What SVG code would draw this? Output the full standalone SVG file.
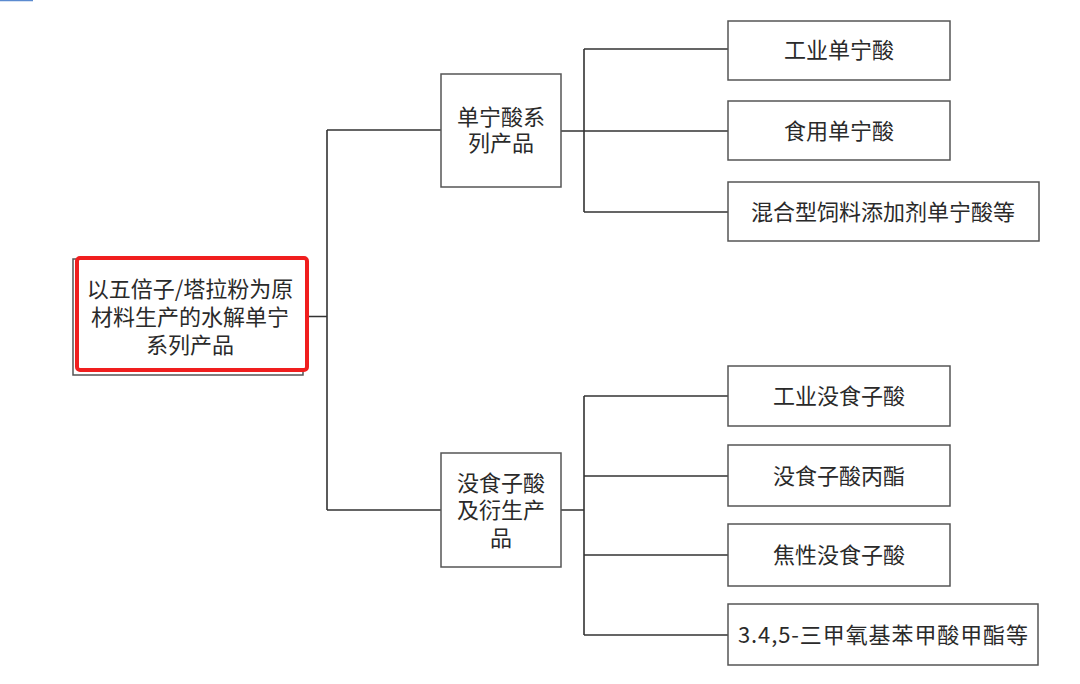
<svg xmlns="http://www.w3.org/2000/svg" width="1080" height="684" viewBox="0 0 1080 684">
<style>
.box{fill:#fff;stroke:#555;stroke-width:1.5}
.t{font-family:"Noto Sans CJK SC","Noto Sans",sans-serif;font-size:22px;fill:#2a2a2a;text-anchor:middle}
.c{fill:none;stroke:#333;stroke-width:1.6}
</style>
<rect width="1080" height="684" fill="#fff"/>
<line x1="0" y1="0.5" x2="33" y2="0.5" stroke="#5b8bd0" stroke-width="1.5"/>
<g id="connectors">
<path class="c" d="M309 316.5H327M327 130V510M327 130H441M327 510H441"/>
<path class="c" d="M561 131H584M584 49V212M584 49H728M584 131H728M584 212H728"/>
<path class="c" d="M561 510H584M584 396V635M584 396H728M584 476H728M584 555H728M584 635H728"/>
</g>
<g id="root">
<rect x="73" y="259" width="230" height="116" class="box"/>
<rect x="77" y="258" width="230" height="112" rx="3" fill="#fff" stroke="#f01e1e" stroke-width="4"/>
<text class="t"><tspan x="190" y="297">以五倍子/塔拉粉为原</tspan><tspan x="190" y="325">材料生产的水解单宁</tspan><tspan x="190" y="352.5">系列产品</tspan></text>
</g>
<g id="n1">
<rect x="441" y="74" width="120" height="113" class="box"/>
<text class="t"><tspan x="501" y="125">单宁酸系</tspan><tspan x="501" y="151">列产品</tspan></text>
</g>
<g id="n2">
<rect x="441" y="453" width="120" height="114" class="box"/>
<text class="t"><tspan x="501" y="491">没食子酸</tspan><tspan x="501" y="518">及衍生产</tspan><tspan x="501" y="545.5">品</tspan></text>
</g>
<g id="l1"><rect x="728" y="21" width="222" height="59" class="box"/><text class="t" x="839" y="57.5">工业单宁酸</text></g>
<g id="l2"><rect x="728" y="101" width="222" height="59" class="box"/><text class="t" x="839" y="138.5">食用单宁酸</text></g>
<g id="l3"><rect x="728" y="182" width="311" height="59" class="box"/><text class="t" x="883" y="219.5">混合型饲料添加剂单宁酸等</text></g>
<g id="l4"><rect x="728" y="366" width="222" height="60" class="box"/><text class="t" x="839" y="403.5">工业没食子酸</text></g>
<g id="l5"><rect x="728" y="445" width="222" height="61" class="box"/><text class="t" x="839" y="483.5">没食子酸丙酯</text></g>
<g id="l6"><rect x="728" y="524" width="222" height="62" class="box"/><text class="t" x="839" y="562.5">焦性没食子酸</text></g>
<g id="l7"><rect x="728" y="604" width="310" height="61" class="box"/><text class="t" x="883" y="642.5" textLength="290" lengthAdjust="spacing">3.4,5-三甲氧基苯甲酸甲酯等</text></g>
</svg>
